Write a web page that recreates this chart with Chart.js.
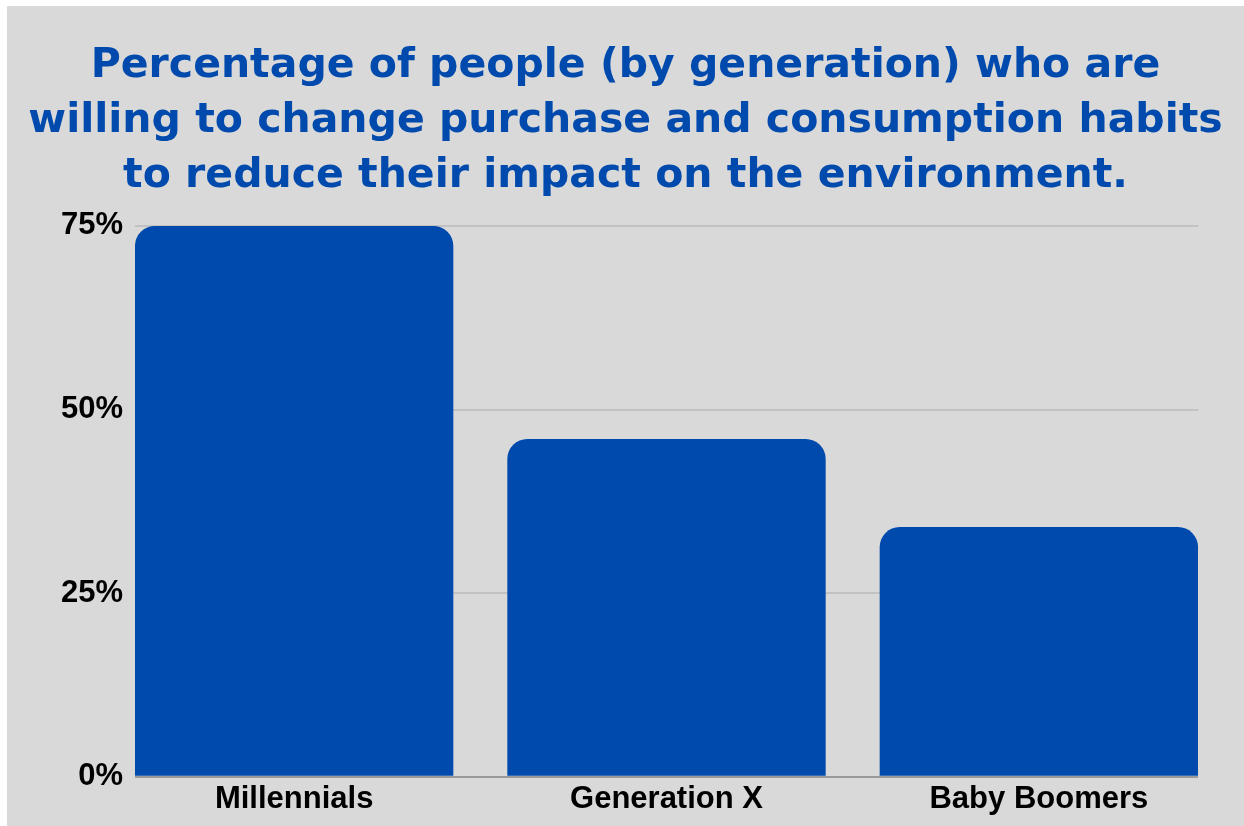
<!DOCTYPE html>
<html>
<head>
<meta charset="utf-8">
<script src="https://cdn.jsdelivr.net/npm/chart.js@4.4.1/dist/chart.umd.min.js"></script>
<style>
  html, body { margin: 0; padding: 0; background: #ffffff; }
  #wrap {
    position: absolute;
    left: 7px;
    top: 6px;
    width: 1237px;
    height: 820px;
    background: #d9d9d9;
  }
</style>
</head>
<body>
<div id="wrap"><canvas id="gen-chart"></canvas></div>
<script>
const generations = ['Millennials', 'Generation X', 'Baby Boomers'];
const willingPct = [75, 46, 34];
const titleLines = [
  'Percentage of people (by generation) who are',
  'willing to change purchase and consumption habits',
  'to reduce their impact on the environment.'
];
const yTicks = [0, 25, 50, 75];

// bars sit on a linear x axis so the outer bars touch the plot edges
const points = generations.map((g, i) => ({ x: i, y: willingPct[i] }));

const ctx = document.getElementById('gen-chart');
new Chart(ctx, {
  type: 'bar',
  data: {
    datasets: [{
      data: points,
      backgroundColor: '#004aad',
      borderRadius: 20,
      borderSkipped: 'start',
      barPercentage: 0.855,
      categoryPercentage: 1.0
    }]
  },
  options: {
    responsive: true,
    maintainAspectRatio: false,
    animation: false,
    layout: {
      padding: { top: 33, right: 0, bottom: 4, left: 0 }
    },
    plugins: {
      legend: { display: false },
      tooltip: { enabled: false },
      title: {
        display: true,
        text: titleLines,
        color: '#004aad',
        font: { family: 'DejaVu Sans', size: 41, weight: 'bold', lineHeight: 1.341 },
        padding: { top: 0, bottom: 22 }
      }
    },
    scales: {
      x: {
        type: 'linear',
        offset: false,
        min: -0.4274,
        max: 2.4274,
        afterBuildTicks: (scale) => {
          scale.ticks = generations.map((g, i) => ({ value: i }));
        },
        grid: { display: false, drawTicks: false, offset: false },
        border: { display: false },
        ticks: {
          color: '#000000',
          padding: 4,
          autoSkip: false,
          maxRotation: 0,
          font: { family: 'Liberation Sans', size: 31, weight: 'bold' },
          callback: (v) => generations[v]
        }
      },
      y: {
        min: 0,
        max: 75,
        afterBuildTicks: (scale) => {
          scale.ticks = yTicks.map(v => ({ value: v }));
        },
        afterFit: (scale) => {
          scale.width = 128;
        },
        border: { display: false },
        grid: {
          drawTicks: false,
          lineWidth: 2,
          color: (c) => (c.tick && c.tick.value === 0) ? '#9a9a9a' : '#c2c2c2'
        },
        ticks: {
          color: '#000000',
          padding: 12,
          font: { family: 'Liberation Sans', size: 31, weight: 'bold' },
          callback: (v) => v + '%'
        }
      },
      // empty right-hand spacer so the plot ends where the reference does
      // while the title stays centred on the whole panel
      spacer: {
        type: 'linear',
        position: 'right',
        display: true,
        grid: { display: false, drawTicks: false },
        border: { display: false },
        ticks: { display: false },
        afterFit: (scale) => {
          scale.width = 46;
        }
      }
    }
  }
});
</script>
</body>
</html>
